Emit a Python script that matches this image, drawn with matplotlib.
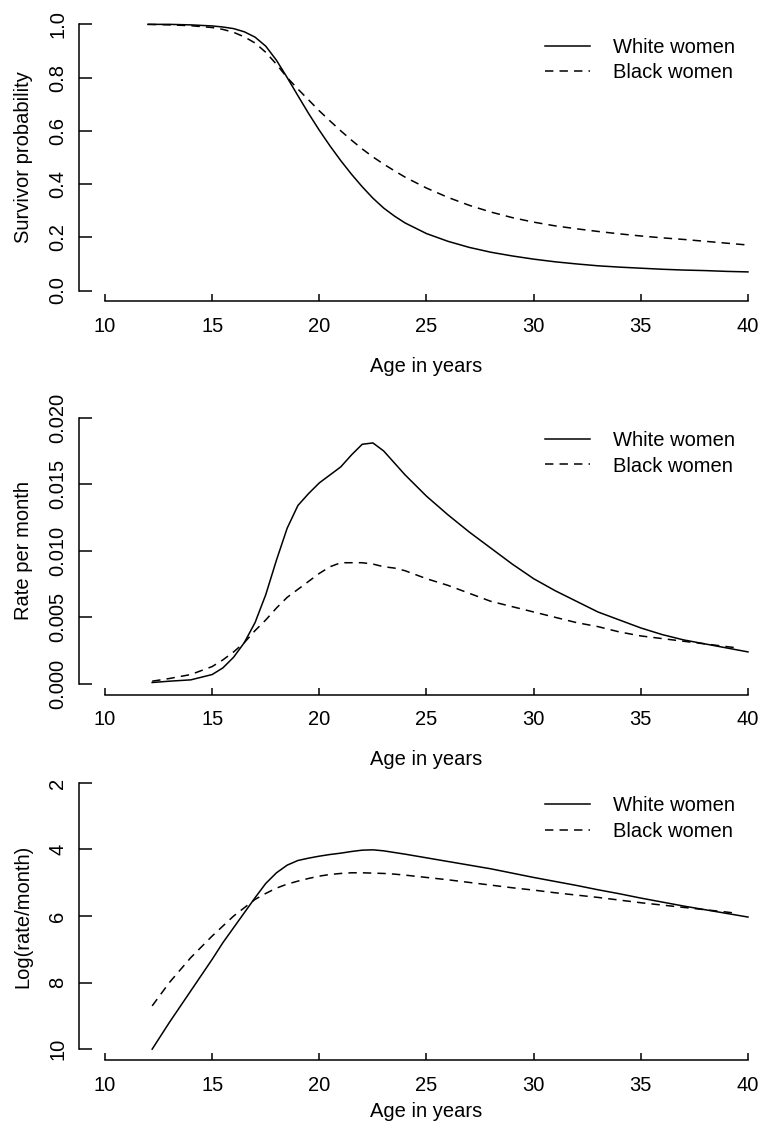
import numpy as np
import matplotlib
matplotlib.use("Agg")
import matplotlib.pyplot as plt

plt.rcParams['font.family'] = ['Liberation Sans', 'DejaVu Sans']

# ages (years)
age_surv = [12, 13, 14, 15, 15.5, 16, 16.5, 17, 17.5, 18, 18.5, 19, 19.5, 20, 20.5,
            21, 21.5, 22, 22.5, 23, 23.5, 24, 25, 26, 27, 28, 29, 30, 31, 32, 33,
            34, 35, 36, 37, 38, 39, 40]
age_haz_white = [12.2, 13, 14, 15, 15.5, 16, 16.5, 17, 17.5, 18, 18.5, 19, 19.5, 20, 20.5,
                 21, 21.5, 22, 22.5, 23, 23.5, 24, 25, 26, 27, 28, 29, 30, 31, 32, 33,
                 34, 35, 36, 37, 38, 39, 40]
age_haz_black = age_haz_white[:-1] + [39.5]

# survivor probability
surv_white = [1.000, 1.000, 0.998, 0.994, 0.990, 0.984, 0.972, 0.952, 0.918, 0.865, 0.800,
              0.732, 0.665, 0.602, 0.543, 0.488, 0.437, 0.390, 0.347, 0.310, 0.280, 0.254,
              0.214, 0.185, 0.162, 0.144, 0.130, 0.118, 0.108, 0.100, 0.093, 0.088, 0.084,
              0.080, 0.077, 0.075, 0.072, 0.070]
surv_black = [1.000, 0.998, 0.995, 0.988, 0.981, 0.970, 0.953, 0.930, 0.895, 0.850, 0.800,
              0.757, 0.716, 0.675, 0.637, 0.600, 0.565, 0.532, 0.502, 0.475, 0.450, 0.426,
              0.385, 0.350, 0.320, 0.295, 0.274, 0.257, 0.243, 0.232, 0.222, 0.213, 0.205,
              0.198, 0.192, 0.185, 0.178, 0.171]

# rate per month
rate_white = [0.0001, 0.0002, 0.0003, 0.0007, 0.0012, 0.0020, 0.0031, 0.0046, 0.0067, 0.0093,
              0.0117, 0.0134, 0.0143, 0.0151, 0.0157, 0.0163, 0.0172, 0.0180, 0.0181, 0.0175,
              0.0166, 0.0157, 0.0141, 0.0127, 0.0114, 0.0102, 0.0090, 0.0079, 0.0070, 0.0062,
              0.0054, 0.0048, 0.0042, 0.0037, 0.0033, 0.0030, 0.0027, 0.0024]
rate_black = [0.0002, 0.0004, 0.0007, 0.0013, 0.0018, 0.0024, 0.0031, 0.0040, 0.0048, 0.0057,
              0.0065, 0.0071, 0.0077, 0.0083, 0.0088, 0.0091, 0.0091, 0.0091, 0.0090, 0.0088,
              0.0087, 0.0085, 0.0079, 0.0074, 0.0068, 0.0062, 0.0058, 0.0054, 0.0050, 0.0046,
              0.0043, 0.0039, 0.0036, 0.0034, 0.0032, 0.0030, 0.0028, 0.0027]

# -log(rate/month)
lograte_white = [10.0, 9.2, 8.25, 7.3, 6.8, 6.35, 5.9, 5.45, 5.02, 4.7, 4.47, 4.33, 4.26, 4.2,
                 4.15, 4.11, 4.06, 4.02, 4.01, 4.04, 4.09, 4.14, 4.25, 4.36, 4.47, 4.58, 4.71,
                 4.84, 4.96, 5.08, 5.21, 5.33, 5.46, 5.58, 5.7, 5.81, 5.92, 6.03]
lograte_black = [8.7, 8.0, 7.25, 6.6, 6.3, 6.0, 5.75, 5.5, 5.32, 5.16, 5.04, 4.95, 4.87, 4.8,
                 4.75, 4.72, 4.7, 4.7, 4.71, 4.72, 4.74, 4.77, 4.84, 4.91, 4.99, 5.07, 5.15,
                 5.22, 5.3, 5.37, 5.44, 5.52, 5.6, 5.67, 5.74, 5.81, 5.88, 5.92]

xticks = [10, 15, 20, 25, 30, 35, 40]
labels = ['White women', 'Black women']

W, H = 765, 1127
fig = plt.figure(figsize=(W / 100, H / 100), dpi=100)

left = 79.3 / W
width = 694.4 / W
height = 287.5 / H
bottoms_px = [301.2, 694.5, 1059.8]

panels = [
    (age_surv, surv_white, age_surv, surv_black, 'Survivor probability',
     [0.0, 0.2, 0.4, 0.6, 0.8, 1.0], ['0.0', '0.2', '0.4', '0.6', '0.8', '1.0'], (0, 1), False, 15),
    (age_haz_white, rate_white, age_haz_black, rate_black, 'Rate per month',
     [0, 0.005, 0.010, 0.015, 0.020], ['0.000', '0.005', '0.010', '0.015', '0.020'], (0, 0.02), False, 15),
    (age_haz_white, lograte_white, age_haz_black, lograte_black, 'Log(rate/month)',
     [2, 4, 6, 8, 10], ['2', '4', '6', '8', '10'], (2, 10), True, 5.5),
]

fs = 14.5
lw = 1.1

for (xw, yw, xb, yb, ylab, yt, ytl, yr, inv, xpad), bpx in zip(panels, bottoms_px):
    ax = fig.add_axes([left, 1 - bpx / H, width, height])
    ax.plot(xw, yw, color='black', lw=lw, label=labels[0])
    ax.plot(xb, yb, color='black', lw=lw, linestyle=(0, (5.5, 4)), label=labels[1])

    ax.set_xlim(8.8, 41.2)
    span = yr[1] - yr[0]
    if inv:
        ax.set_ylim(yr[1] + 0.04 * span, yr[0] - 0.04 * span)
    else:
        ax.set_ylim(yr[0] - 0.04 * span, yr[1] + 0.04 * span)

    ax.set_xticks(xticks)
    ax.set_xticklabels([str(t) for t in xticks])
    ax.set_yticks(yt)
    ax.set_yticklabels(ytl)

    for s in ['top', 'right']:
        ax.spines[s].set_visible(False)
    ax.spines['left'].set_bounds(yr[0], yr[1])
    ax.spines['bottom'].set_bounds(10, 40)
    for s in ['left', 'bottom']:
        ax.spines[s].set_linewidth(lw)

    ax.tick_params(axis='x', direction='in', length=5.4, width=lw, labelsize=fs, pad=11.5)
    ax.tick_params(axis='y', direction='in', length=9.4, width=lw, labelsize=fs, pad=8.5,
                   labelrotation=90)
    for t in ax.get_yticklabels():
        t.set_va('center')

    ax.set_xlabel('Age in years', fontsize=fs, labelpad=xpad)
    ax.set_ylabel(ylab, fontsize=fs, labelpad=11.5)

    ax.legend(loc='upper left', bbox_to_anchor=(0.671, 0.917), frameon=False, fontsize=fs,
              handlelength=2.2, handletextpad=1.15, labelspacing=0.33,
              borderpad=0, borderaxespad=0)

fig.savefig('out.png', dpi=100)
